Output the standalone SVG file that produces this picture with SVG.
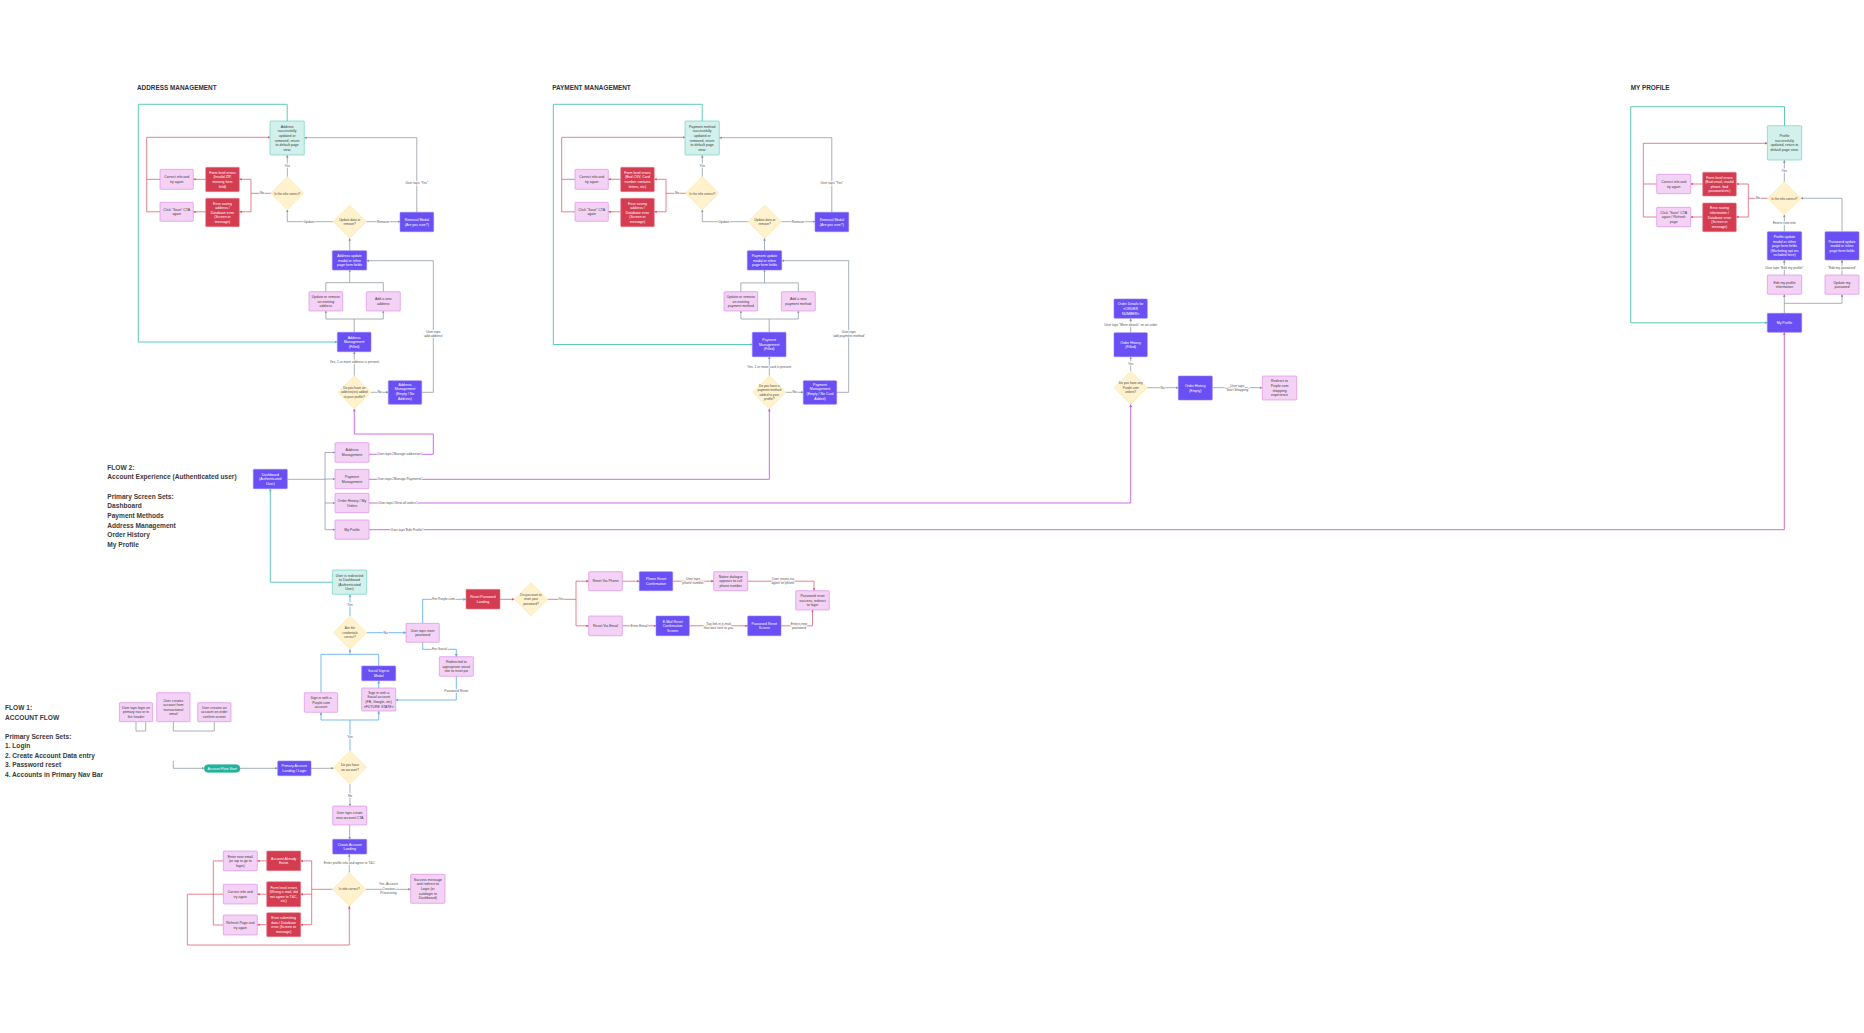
<svg xmlns="http://www.w3.org/2000/svg" width="1864" height="1033" viewBox="0 0 1864 1033">
<defs>
<style>
.tx{font-family:"Liberation Sans",Arial,sans-serif;font-size:3.5px;text-anchor:middle}
.tw{fill:#ffffff}
.td{fill:#3b3b3b}
.dt{font-family:"Liberation Sans",Arial,sans-serif;font-size:3.2px;text-anchor:middle;fill:#4a4a4a}
.lb{font-family:"Liberation Sans",Arial,sans-serif;font-size:3.3px;text-anchor:middle;fill:#555;paint-order:stroke;stroke:#fff;stroke-width:1.3px}
.ttl{font-family:"Liberation Sans",Arial,sans-serif;font-size:6.4px;font-weight:bold;fill:#2d3340}
.fl{font-family:"Liberation Sans",Arial,sans-serif;font-size:6.6px;font-weight:bold;fill:#3a3a3a}
.bp{fill:#6a4ff5;stroke:#8f7dfb;stroke-width:0.6}
.bk{fill:#f4d2f5;stroke:#d983e2;stroke-width:0.6}
.br{fill:#d33c51;stroke:#e5808d;stroke-width:0.6}
.bt{fill:#d2f0ec;stroke:#62cbbb;stroke-width:0.6}
.bd{fill:#fff2cc;stroke:#fbe2a0;stroke-width:0.6}
.bs{fill:#22b39c;stroke:#22b39c;stroke-width:0.6}
.c{fill:none;stroke-width:0.75;stroke-linejoin:round}
.cg{stroke:#8b95a1}
.cr{stroke:#e2566a}
.ct{stroke:#4cc5b0;stroke-width:0.9}
.cb{stroke:#5eaeea;stroke-width:0.85}
.cm{stroke:#cb5ee0;stroke-width:0.9}
</style>
<marker id="ag" viewBox="0 0 6 6" refX="5.6" refY="3" markerWidth="2.6" markerHeight="2.6" markerUnits="userSpaceOnUse" orient="auto"><path d="M0,0 L6,3 L0,6 z" fill="#8b95a1"/></marker>
<marker id="ar" viewBox="0 0 6 6" refX="5.6" refY="3" markerWidth="2.6" markerHeight="2.6" markerUnits="userSpaceOnUse" orient="auto"><path d="M0,0 L6,3 L0,6 z" fill="#e2566a"/></marker>
<marker id="at" viewBox="0 0 6 6" refX="5.6" refY="3" markerWidth="2.8" markerHeight="2.8" markerUnits="userSpaceOnUse" orient="auto"><path d="M0,0 L6,3 L0,6 z" fill="#4cc5b0"/></marker>
<marker id="ab" viewBox="0 0 6 6" refX="5.6" refY="3" markerWidth="2.8" markerHeight="2.8" markerUnits="userSpaceOnUse" orient="auto"><path d="M0,0 L6,3 L0,6 z" fill="#5eaeea"/></marker>
<marker id="am" viewBox="0 0 6 6" refX="5.6" refY="3" markerWidth="2.8" markerHeight="2.8" markerUnits="userSpaceOnUse" orient="auto"><path d="M0,0 L6,3 L0,6 z" fill="#cb5ee0"/></marker>
</defs>
<rect width="1864" height="1033" fill="#ffffff"/>

<g id="titles">
<text class="ttl" x="137" y="90">ADDRESS MANAGEMENT</text>
<text class="ttl" x="552.3" y="90">PAYMENT MANAGEMENT</text>
<text class="ttl" x="1630.7" y="90">MY PROFILE</text>
<text class="fl" x="107.3" y="469.6">FLOW 2:</text>
<text class="fl" x="107.3" y="479.2">Account Experience (Authenticated user)</text>
<text class="fl" x="107.3" y="499">Primary Screen Sets:</text>
<text class="fl" x="107.3" y="508.3">Dashboard</text>
<text class="fl" x="107.3" y="517.9">Payment Methods</text>
<text class="fl" x="107.3" y="527.5">Address Management</text>
<text class="fl" x="107.3" y="536.9">Order History</text>
<text class="fl" x="107.3" y="546.5">My Profile</text>
<text class="fl" x="5" y="710">FLOW 1:</text>
<text class="fl" x="5" y="719.6">ACCOUNT FLOW</text>
<text class="fl" x="5" y="739">Primary Screen Sets:</text>
<text class="fl" x="5" y="748.3">1. Login</text>
<text class="fl" x="5" y="757.6">2. Create Account Data entry</text>
<text class="fl" x="5" y="767.3">3. Password reset</text>
<text class="fl" x="5" y="777">4. Accounts in Primary Nav Bar</text>
</g>

<g id="connectors">
<!-- ADDRESS -->
<path class="c ct" d="M287.2 121 V104.3 H138.3 V342 H337.3" marker-end="url(#at)"/>
<path class="c cr" d="M160 179.3 H146.7"/>
<path class="c cr" d="M160 211.8 H146.7 V137.3 H270" marker-end="url(#ar)"/>
<path class="c cr" d="M271.2 193.3 H251"/>
<path class="c cr" d="M251 193.3 V179.3 H239.3" marker-end="url(#ar)"/>
<path class="c cr" d="M251 193.3 V211.8 H239.3" marker-end="url(#ar)"/>
<path class="c cr" d="M205.7 179.3 H193.3" marker-end="url(#ar)"/>
<path class="c cr" d="M205.7 211.8 H193.3" marker-end="url(#ar)"/>
<path class="c cg" d="M287.3 176.8 V155.2" marker-end="url(#ag)"/>
<path class="c cg" d="M333.2 221.7 H287.3 V209.8" marker-end="url(#ag)"/>
<path class="c cg" d="M366.2 221.7 H400" marker-end="url(#ag)"/>
<path class="c cg" d="M416.8 212.3 V137.7 H304.3" marker-end="url(#ag)"/>
<path class="c cg" d="M349.7 250.7 V238.2" marker-end="url(#ag)"/>
<path class="c cg" d="M325.85 291.7 V282.7 H383.3 V291.7"/>
<path class="c cg" d="M349.7 282.7 V270" marker-end="url(#ag)"/>
<path class="c cg" d="M354.2 332.3 V319 H325.85 V311" marker-end="url(#ag)"/>
<path class="c cg" d="M354.2 319 H383.3 V311" marker-end="url(#ag)"/>
<path class="c cg" d="M354.3 375.8 V351.7" marker-end="url(#ag)"/>
<path class="c cg" d="M370.8 392.3 H388.3" marker-end="url(#ag)"/>
<path class="c cg" d="M421.7 392.3 H433.3 V260.7 H366.7" marker-end="url(#ag)"/>
<path class="c cm" d="M369 454.3 H433.3 V434 H354.3 V409" marker-end="url(#am)"/>
<text class="lb" x="262" y="194.4">No</text>
<text class="lb" x="287.3" y="166.5">Yes</text>
<text class="lb" x="309" y="222.8">Update</text>
<text class="lb" x="383" y="222.8">Remove</text>
<text class="lb" x="416.8" y="183.8">User taps "Yes"</text>
<text class="lb" x="354.3" y="362.8">Yes, 1 or more address is present</text>
<text class="lb" x="379.5" y="393.4">No</text>
<text class="lb" x="433.3" y="333">User taps</text>
<text class="lb" x="433.3" y="337.3">'add address'</text>
<text class="lb" x="400" y="455.4">User taps "Manage addresses"</text>

<!-- PAYMENT -->
<path class="c ct" d="M702.2 121 V104.3 H553.3 V344.5 H752.3" marker-end="url(#at)"/>
<path class="c cr" d="M575 179.3 H561.7"/>
<path class="c cr" d="M575 211.8 H561.7 V137.3 H685" marker-end="url(#ar)"/>
<path class="c cr" d="M686.2 193.3 H666"/>
<path class="c cr" d="M666 193.3 V179.3 H654.3" marker-end="url(#ar)"/>
<path class="c cr" d="M666 193.3 V211.8 H654.3" marker-end="url(#ar)"/>
<path class="c cr" d="M620.7 179.3 H608.3" marker-end="url(#ar)"/>
<path class="c cr" d="M620.7 211.8 H608.3" marker-end="url(#ar)"/>
<path class="c cg" d="M702.3 176.8 V155.2" marker-end="url(#ag)"/>
<path class="c cg" d="M748.2 221.7 H702.3 V209.8" marker-end="url(#ag)"/>
<path class="c cg" d="M781.2 221.7 H815" marker-end="url(#ag)"/>
<path class="c cg" d="M831.8 212.3 V137.7 H719.3" marker-end="url(#ag)"/>
<path class="c cg" d="M764.5 250.7 V238.2" marker-end="url(#ag)"/>
<path class="c cg" d="M740.85 291.7 V282.9 H798.3 V291.7"/>
<path class="c cg" d="M764.5 282.9 V270" marker-end="url(#ag)"/>
<path class="c cg" d="M769.2 332.3 V319 H740.85 V311" marker-end="url(#ag)"/>
<path class="c cg" d="M769.2 319 H798.3 V311" marker-end="url(#ag)"/>
<path class="c cg" d="M769.3 375.8 V356.7" marker-end="url(#ag)"/>
<path class="c cg" d="M785.8 392.3 H803.3" marker-end="url(#ag)"/>
<path class="c cg" d="M836.7 392.3 H848.7 V260.7 H781.7" marker-end="url(#ag)"/>
<path class="c cm" d="M369 479.3 H769.3 V409" marker-end="url(#am)"/>
<text class="lb" x="677" y="194.4">No</text>
<text class="lb" x="702.3" y="166.5">Yes</text>
<text class="lb" x="724" y="222.8">Update</text>
<text class="lb" x="798" y="222.8">Remove</text>
<text class="lb" x="831.8" y="183.8">User taps "Yes"</text>
<text class="lb" x="769.3" y="367.8">Yes, 1 or more card is present</text>
<text class="lb" x="794.5" y="393.4">No</text>
<text class="lb" x="848.7" y="333">User taps</text>
<text class="lb" x="848.7" y="337.3">'add payment method'</text>
<text class="lb" x="400" y="480.4">User taps "Manage Payments"</text>

<!-- MY PROFILE -->
<path class="c ct" d="M1784.5 125.7 V106.7 H1630.7 V322.8 H1767.3" marker-end="url(#at)"/>
<path class="c cr" d="M1656.7 184 H1643.3"/>
<path class="c cr" d="M1656.7 217 H1643.3 V143.3 H1767.3" marker-end="url(#ar)"/>
<path class="c cr" d="M1767.8 198.3 H1748.3"/>
<path class="c cr" d="M1748.3 198.3 V184 H1736.3" marker-end="url(#ar)"/>
<path class="c cr" d="M1748.3 198.3 V217 H1736.3" marker-end="url(#ar)"/>
<path class="c cr" d="M1702.7 184 H1690.7" marker-end="url(#ar)"/>
<path class="c cr" d="M1702.7 217 H1690.7" marker-end="url(#ar)"/>
<path class="c cg" d="M1784.3 181.8 V160.2" marker-end="url(#ag)"/>
<path class="c cg" d="M1784.3 231.7 V214.8" marker-end="url(#ag)"/>
<path class="c cg" d="M1842 231.7 V198.3 H1800.8" marker-end="url(#ag)"/>
<path class="c cg" d="M1784.3 275 V260.2" marker-end="url(#ag)"/>
<path class="c cg" d="M1842 275 V260.2" marker-end="url(#ag)"/>
<path class="c cg" d="M1784.3 313.3 V303.3 H1842 V294.5" marker-end="url(#ag)"/>
<path class="c cg" d="M1784.3 303.3 V294.5" marker-end="url(#ag)"/>
<path class="c cm" d="M369 529.7 H1784.3 V332.5" marker-end="url(#am)"/>
<text class="lb" x="1758" y="199.4">No</text>
<text class="lb" x="1784.3" y="171.5">Yes</text>
<text class="lb" x="1784.3" y="223.8">Enters new info</text>
<text class="lb" x="1784.3" y="268.8">User taps "Edit my profile"</text>
<text class="lb" x="1842" y="268.8">"Edit my password"</text>
<text class="lb" x="407" y="530.8">User taps"Edit Profile"</text>

<!-- ORDER HISTORY -->
<path class="c cg" d="M1130.7 332.7 V318.5" marker-end="url(#ag)"/>
<path class="c cg" d="M1130.7 371.2 V356.9" marker-end="url(#ag)"/>
<path class="c cg" d="M1147.2 387.7 H1178.3" marker-end="url(#ag)"/>
<path class="c cg" d="M1212.3 387.7 H1262.3" marker-end="url(#ag)"/>
<path class="c cm" d="M369 503 H1130.7 V404.4" marker-end="url(#am)"/>
<text class="lb" x="1130.7" y="326.4">User taps "More details" on an order</text>
<text class="lb" x="1130.7" y="365">Yes</text>
<text class="lb" x="1162.7" y="388.8">No</text>
<text class="lb" x="1237.3" y="386.5">User taps</text>
<text class="lb" x="1237.3" y="390.8">"Start Shopping"</text>
<text class="lb" x="398" y="504.1">User taps "View all orders"</text>

<!-- FLOW 2 DASHBOARD -->
<path class="c cg" d="M287.3 479.3 H325"/>
<path class="c cg" d="M325 452.5 V529.7"/>
<path class="c cg" d="M325 452.5 H335" marker-end="url(#ag)"/>
<path class="c cg" d="M325 479 H335" marker-end="url(#ag)"/>
<path class="c cg" d="M325 503 H335" marker-end="url(#ag)"/>
<path class="c cg" d="M325 529.7 H335" marker-end="url(#ag)"/>

<!-- FLOW 1 -->
<path class="c ct" d="M332.3 582.2 H270.3 V489" marker-end="url(#at)"/>
<path class="c cb" d="M350 616.2 V594.5" marker-end="url(#ab)"/>
<path class="c cb" d="M366.5 632.7 H406" marker-end="url(#ab)"/>
<path class="c cb" d="M422.7 623.3 V599.3 H466" marker-end="url(#ab)"/>
<path class="c cr" d="M500 599.3 H514.3" marker-end="url(#ar)"/>
<path class="c cr" d="M547.5 599.3 H576"/>
<path class="c cr" d="M576 599.3 V581.2 H588.7" marker-end="url(#ar)"/>
<path class="c cr" d="M576 599.3 V625.8 H588.7" marker-end="url(#ar)"/>
<path class="c cr" d="M622.3 581.2 H639.3" marker-end="url(#ar)"/>
<path class="c cr" d="M672.7 581.2 H713.7" marker-end="url(#ar)"/>
<path class="c cr" d="M747.7 581.2 H814 V590.7" marker-end="url(#ar)"/>
<path class="c cr" d="M622.3 625.8 H656" marker-end="url(#ar)"/>
<path class="c cr" d="M689.3 625.8 H747.7" marker-end="url(#ar)"/>
<path class="c cr" d="M781 625.8 H812.5 V610" marker-end="url(#ar)"/>
<path class="c cb" d="M422.7 642.3 V649.3 H456.3 V656.7" marker-end="url(#ab)"/>
<path class="c cb" d="M456.3 676.3 V700 H395.7" marker-end="url(#ab)"/>
<path class="c cb" d="M378.7 688 V680.9" marker-end="url(#ab)"/>
<path class="c cb" d="M378.7 666 V654.3 H350"/>
<path class="c cb" d="M321 692.7 V654.3 H350 V649.4" marker-end="url(#ab)"/>
<path class="c cb" d="M350 750.8 V720"/>
<path class="c cb" d="M321 720 H378.7"/>
<path class="c cb" d="M321 720 V712.5" marker-end="url(#ab)"/>
<path class="c cb" d="M378.7 720 V711.2" marker-end="url(#ab)"/>
<path class="c cg" d="M311 768.3 H333.5" marker-end="url(#ag)"/>
<path class="c cg" d="M240 768.3 H277.7" marker-end="url(#ag)"/>
<path class="c cg" d="M173.3 761 V768.3 H204.3" marker-end="url(#ag)"/>
<path class="c cg" d="M136 721.7 V731 H145.7 V721.7"/>
<path class="c cg" d="M173.3 721.7 V731 H214.3 V721.7"/>
<path class="c cg" d="M350 784 V806" marker-end="url(#ag)"/>
<path class="c cg" d="M349.7 825 V839.3" marker-end="url(#ag)"/>
<path class="c cg" d="M349.3 872.6 V854.2" marker-end="url(#ag)"/>
<path class="c cg" d="M366 889.3 H410.7" marker-end="url(#ag)"/>
<path class="c cr" d="M332.6 889.3 H311.7"/>
<path class="c cr" d="M311.7 860.9 V924.7"/>
<path class="c cr" d="M311.7 860.9 H300.7" marker-end="url(#ar)"/>
<path class="c cr" d="M311.7 894.2 H300.7" marker-end="url(#ar)"/>
<path class="c cr" d="M311.7 924.7 H300.7" marker-end="url(#ar)"/>
<path class="c cr" d="M266.7 860.9 H257.3" marker-end="url(#ar)"/>
<path class="c cr" d="M266.7 894.2 H257.3" marker-end="url(#ar)"/>
<path class="c cr" d="M266.7 924.7 H257.3" marker-end="url(#ar)"/>
<path class="c cr" d="M223.3 860.9 H213.3 V925 H223.3"/>
<path class="c cr" d="M223.3 894.2 H187.3 V945 H349.3 V906.2" marker-end="url(#ar)"/>
<text class="lb" x="350" y="606">Yes</text>
<text class="lb" x="385.7" y="633.8">No</text>
<text class="lb" x="443.5" y="600.4">For Purple.com</text>
<text class="lb" x="561" y="600.4">Yes</text>
<text class="lb" x="693" y="580">User taps</text>
<text class="lb" x="693" y="584.3">phone number</text>
<text class="lb" x="783" y="580">User resets via</text>
<text class="lb" x="783" y="584.3">agent on phone</text>
<text class="lb" x="639" y="626.9">Enter Email</text>
<text class="lb" x="718.5" y="624.6">Tap link in e-mail</text>
<text class="lb" x="718.5" y="628.9">that was sent to you</text>
<text class="lb" x="799" y="624.6">Enters new</text>
<text class="lb" x="799" y="628.9">password</text>
<text class="lb" x="439.5" y="650.4">For Social</text>
<text class="lb" x="456.3" y="692">Password Reset</text>
<text class="lb" x="350" y="738.4">Yes</text>
<text class="lb" x="350" y="796.8">No</text>
<text class="lb" x="349.3" y="864.4">Enter profile info and agree to T&amp;C</text>
<text class="lb" x="388.5" y="885.3">Yes, Account</text>
<text class="lb" x="388.5" y="889.6">Creation</text>
<text class="lb" x="388.5" y="893.9">Processing</text>
</g>

<!-- ADDRESS NODES -->
<g id="a-success"><rect class="bt" x="270" y="121" width="34.3" height="34" rx="0.8"/><text class="tx td" y="127.75"><tspan x="287.2">Address</tspan><tspan x="287.2" dy="4.6">successfully</tspan><tspan x="287.2" dy="4.6">updated or</tspan><tspan x="287.2" dy="4.6">removed, return</tspan><tspan x="287.2" dy="4.6">to default page</tspan><tspan x="287.2" dy="4.6">view.</tspan></text></g>
<g id="a-correct"><rect class="bk" x="160" y="169.3" width="33.3" height="20" rx="0.8"/><text class="tx td" y="178.25"><tspan x="176.7">Correct info and</tspan><tspan x="176.7" dy="4.6">try again</tspan></text></g>
<g id="a-save"><rect class="bk" x="160" y="202.3" width="33.3" height="19" rx="0.8"/><text class="tx td" y="210.75"><tspan x="176.7">Click "Save" CTA</tspan><tspan x="176.7" dy="4.6">again</tspan></text></g>
<g id="a-formerr"><rect class="br" x="205.7" y="167.3" width="33.6" height="24.4" rx="0.8"/><text class="tx tw" y="173.85"><tspan x="222.5">Form level errors</tspan><tspan x="222.5" dy="4.6">(Invalid ZIP,</tspan><tspan x="222.5" dy="4.6">missing form</tspan><tspan x="222.5" dy="4.6">field)</tspan></text></g>
<g id="a-saveerr"><rect class="br" x="205.7" y="198.3" width="33.6" height="28.4" rx="0.8"/><text class="tx tw" y="204.55"><tspan x="222.5">Error saving</tspan><tspan x="222.5" dy="4.6">address /</tspan><tspan x="222.5" dy="4.6">Database error</tspan><tspan x="222.5" dy="4.6">(Screen or</tspan><tspan x="222.5" dy="4.6">message)</tspan></text></g>
<g id="a-infocorrect"><polygon class="bd" points="287.3,176.8 303.8,193.3 287.3,209.8 270.8,193.3"/><text class="dt" x="287.3" y="194.5">Is the info correct?</text></g>
<g id="a-updateorremove"><polygon class="bd" points="349.7,205.2 366.2,221.7 349.7,238.2 333.2,221.7"/><text class="dt" y="220.6"><tspan x="349.7">Update data or</tspan><tspan x="349.7" dy="4.4">remove?</tspan></text></g>
<g id="a-removal"><rect class="bp" x="400" y="212.3" width="33.7" height="19.4" rx="0.8"/><text class="tx tw" y="220.95"><tspan x="416.8">Removal Modal</tspan><tspan x="416.8" dy="4.6">(Are you sure?)</tspan></text></g>
<g id="a-updatemodal"><rect class="bp" x="332.3" y="250.7" width="34.4" height="19.3" rx="0.8"/><text class="tx tw" y="257"><tspan x="349.5">Address update</tspan><tspan x="349.5" dy="4.6">modal or inline</tspan><tspan x="349.5" dy="4.6">page form fields</tspan></text></g>
<g id="a-updateexisting"><rect class="bk" x="309" y="291.7" width="33.7" height="19.3" rx="0.8"/><text class="tx td" y="298"><tspan x="325.85">Update or remove</tspan><tspan x="325.85" dy="4.6">an existing</tspan><tspan x="325.85" dy="4.6">address</tspan></text></g>
<g id="a-addnew"><rect class="bk" x="366.3" y="291.7" width="34" height="19.3" rx="0.8"/><text class="tx td" y="300.3"><tspan x="383.3">Add a new</tspan><tspan x="383.3" dy="4.6">address</tspan></text></g>
<g id="a-filled"><rect class="bp" x="337.3" y="332.3" width="33.7" height="19.4" rx="0.8"/><text class="tx tw" y="338.65"><tspan x="354.15">Address</tspan><tspan x="354.15" dy="4.6">Management</tspan><tspan x="354.15" dy="4.6">(Filled)</tspan></text></g>
<g id="a-haveaddress"><polygon class="bd" points="354.3,375.8 370.8,392.3 354.3,408.8 337.8,392.3"/><text class="dt" y="389.05"><tspan x="354.3">Do you have an</tspan><tspan x="354.3" dy="4.4">address(es) added</tspan><tspan x="354.3" dy="4.4">to your profile?</tspan></text></g>
<g id="a-empty"><rect class="bp" x="388.3" y="380.7" width="33.4" height="23.6" rx="0.8"/><text class="tx tw" y="385.85"><tspan x="405">Address</tspan><tspan x="405" dy="4.6">Management</tspan><tspan x="405" dy="4.6">(Empty / No</tspan><tspan x="405" dy="4.6">Address)</tspan></text></g>

<!-- PAYMENT NODES -->
<g id="p-success"><rect class="bt" x="685" y="121" width="34.3" height="34" rx="0.8"/><text class="tx td" y="127.75"><tspan x="702.2">Payment method</tspan><tspan x="702.2" dy="4.6">successfully</tspan><tspan x="702.2" dy="4.6">updated or</tspan><tspan x="702.2" dy="4.6">removed, return</tspan><tspan x="702.2" dy="4.6">to default page</tspan><tspan x="702.2" dy="4.6">view.</tspan></text></g>
<g id="p-correct"><rect class="bk" x="575" y="169.3" width="33.3" height="20" rx="0.8"/><text class="tx td" y="178.25"><tspan x="591.7">Correct info and</tspan><tspan x="591.7" dy="4.6">try again</tspan></text></g>
<g id="p-save"><rect class="bk" x="575" y="202.3" width="33.3" height="19" rx="0.8"/><text class="tx td" y="210.75"><tspan x="591.7">Click "Save" CTA</tspan><tspan x="591.7" dy="4.6">again</tspan></text></g>
<g id="p-formerr"><rect class="br" x="620.7" y="167.3" width="33.6" height="24.4" rx="0.8"/><text class="tx tw" y="173.85"><tspan x="637.5">Form level errors</tspan><tspan x="637.5" dy="4.6">(Bad CVV, Card</tspan><tspan x="637.5" dy="4.6">number contains</tspan><tspan x="637.5" dy="4.6">letters, etc)</tspan></text></g>
<g id="p-saveerr"><rect class="br" x="620.7" y="198.3" width="33.6" height="28.4" rx="0.8"/><text class="tx tw" y="204.55"><tspan x="637.5">Error saving</tspan><tspan x="637.5" dy="4.6">address /</tspan><tspan x="637.5" dy="4.6">Database error</tspan><tspan x="637.5" dy="4.6">(Screen or</tspan><tspan x="637.5" dy="4.6">message)</tspan></text></g>
<g id="p-infocorrect"><polygon class="bd" points="702.3,176.8 718.8,193.3 702.3,209.8 685.8,193.3"/><text class="dt" x="702.3" y="194.5">Is the info correct?</text></g>
<g id="p-updateorremove"><polygon class="bd" points="764.7,205.2 781.2,221.7 764.7,238.2 748.2,221.7"/><text class="dt" y="220.6"><tspan x="764.7">Update data or</tspan><tspan x="764.7" dy="4.4">remove?</tspan></text></g>
<g id="p-removal"><rect class="bp" x="815" y="212.3" width="33.7" height="19.4" rx="0.8"/><text class="tx tw" y="220.95"><tspan x="831.8">Removal Modal</tspan><tspan x="831.8" dy="4.6">(Are you sure?)</tspan></text></g>
<g id="p-updatemodal"><rect class="bp" x="747.3" y="250.7" width="34.4" height="19.3" rx="0.8"/><text class="tx tw" y="257"><tspan x="764.5">Payment update</tspan><tspan x="764.5" dy="4.6">modal or inline</tspan><tspan x="764.5" dy="4.6">page form fields</tspan></text></g>
<g id="p-updateexisting"><rect class="bk" x="724" y="291.7" width="33.7" height="19.3" rx="0.8"/><text class="tx td" y="298"><tspan x="740.85">Update or remove</tspan><tspan x="740.85" dy="4.6">an existing</tspan><tspan x="740.85" dy="4.6">payment method</tspan></text></g>
<g id="p-addnew"><rect class="bk" x="781.3" y="291.7" width="34" height="19.3" rx="0.8"/><text class="tx td" y="300.3"><tspan x="798.3">Add a new</tspan><tspan x="798.3" dy="4.6">payment method</tspan></text></g>
<g id="p-filled"><rect class="bp" x="752.3" y="332.3" width="33.7" height="24.4" rx="0.8"/><text class="tx tw" y="341.15"><tspan x="769.15">Payment</tspan><tspan x="769.15" dy="4.6">Management</tspan><tspan x="769.15" dy="4.6">(Filled)</tspan></text></g>
<g id="p-havepayment"><polygon class="bd" points="769.3,375.8 785.8,392.3 769.3,408.8 752.8,392.3"/><text class="dt" y="386.85"><tspan x="769.3">Do you have a</tspan><tspan x="769.3" dy="4.4">payment method</tspan><tspan x="769.3" dy="4.4">added to your</tspan><tspan x="769.3" dy="4.4">profile?</tspan></text></g>
<g id="p-empty"><rect class="bp" x="803.3" y="380.7" width="33.4" height="23.6" rx="0.8"/><text class="tx tw" y="385.85"><tspan x="820">Payment</tspan><tspan x="820" dy="4.6">Management</tspan><tspan x="820" dy="4.6">(Empty / No Card</tspan><tspan x="820" dy="4.6">Added)</tspan></text></g>

<!-- MY PROFILE NODES -->
<g id="m-success"><rect class="bt" x="1767.3" y="125.7" width="34.4" height="34.3" rx="0.8"/><text class="tx td" y="137.2"><tspan x="1784.5">Profile</tspan><tspan x="1784.5" dy="4.6">successfully</tspan><tspan x="1784.5" dy="4.6">updated, return to</tspan><tspan x="1784.5" dy="4.6">default page view.</tspan></text></g>
<g id="m-correct"><rect class="bk" x="1656.7" y="174.3" width="34" height="19.4" rx="0.8"/><text class="tx td" y="182.95"><tspan x="1673.7">Correct info and</tspan><tspan x="1673.7" dy="4.6">try again</tspan></text></g>
<g id="m-save"><rect class="bk" x="1656.7" y="207.3" width="34" height="19.4" rx="0.8"/><text class="tx td" y="213.65"><tspan x="1673.7">Click "Save" CTA</tspan><tspan x="1673.7" dy="4.6">again / Refresh</tspan><tspan x="1673.7" dy="4.6">page</tspan></text></g>
<g id="m-formerr"><rect class="br" x="1702.7" y="172.3" width="33.6" height="23.7" rx="0.8"/><text class="tx tw" y="178.5"><tspan x="1719.5">Form level errors</tspan><tspan x="1719.5" dy="4.6">(Bad email, invalid</tspan><tspan x="1719.5" dy="4.6">phone, bad</tspan><tspan x="1719.5" dy="4.6">password etc)</tspan></text></g>
<g id="m-saveerr"><rect class="br" x="1702.7" y="203" width="33.6" height="28.7" rx="0.8"/><text class="tx tw" y="209.4"><tspan x="1719.5">Error saving</tspan><tspan x="1719.5" dy="4.6">information /</tspan><tspan x="1719.5" dy="4.6">Database error</tspan><tspan x="1719.5" dy="4.6">(Screen or</tspan><tspan x="1719.5" dy="4.6">message)</tspan></text></g>
<g id="m-infocorrect"><polygon class="bd" points="1784.3,181.8 1800.8,198.3 1784.3,214.8 1767.8,198.3"/><text class="dt" x="1784.3" y="199.5">Is the info correct?</text></g>
<g id="m-profileupdate"><rect class="bp" x="1767.3" y="231.7" width="34.4" height="28.3" rx="0.8"/><text class="tx tw" y="237.9"><tspan x="1784.5">Profile update</tspan><tspan x="1784.5" dy="4.6">modal or inline</tspan><tspan x="1784.5" dy="4.6">page form fields</tspan><tspan x="1784.5" dy="4.6">(Marketing opt-ins</tspan><tspan x="1784.5" dy="4.6">included here)</tspan></text></g>
<g id="m-passwordupdate"><rect class="bp" x="1825" y="231.7" width="34" height="28.3" rx="0.8"/><text class="tx tw" y="242.5"><tspan x="1842">Password update</tspan><tspan x="1842" dy="4.6">modal or inline</tspan><tspan x="1842" dy="4.6">page form fields</tspan></text></g>
<g id="m-editprofile"><rect class="bk" x="1767.3" y="275" width="34.4" height="19.3" rx="0.8"/><text class="tx td" y="283.6"><tspan x="1784.5">Edit my profile</tspan><tspan x="1784.5" dy="4.6">information</tspan></text></g>
<g id="m-updatepassword"><rect class="bk" x="1825" y="275" width="34" height="19.3" rx="0.8"/><text class="tx td" y="283.6"><tspan x="1842">Update my</tspan><tspan x="1842" dy="4.6">password</tspan></text></g>
<g id="m-myprofile"><rect class="bp" x="1767.3" y="313.3" width="34.4" height="19" rx="0.8"/><text class="tx tw" x="1784.5" y="324.05">My Profile</text></g>

<!-- ORDER HISTORY NODES -->
<g id="o-details"><rect class="bp" x="1114" y="299" width="33.3" height="19.3" rx="0.8"/><text class="tx tw" y="305.3"><tspan x="1130.65">Order Details for</tspan><tspan x="1130.65" dy="4.6">&lt;ORDER</tspan><tspan x="1130.65" dy="4.6">NUMBER&gt;</tspan></text></g>
<g id="o-filled"><rect class="bp" x="1114" y="332.7" width="33.3" height="24" rx="0.8"/><text class="tx tw" y="343.65"><tspan x="1130.65">Order History</tspan><tspan x="1130.65" dy="4.6">(Filled)</tspan></text></g>
<g id="o-haveorders"><polygon class="bd" points="1130.7,371.2 1147.2,387.7 1130.7,404.2 1114.2,387.7"/><text class="dt" y="384.45"><tspan x="1130.7">Do you have any</tspan><tspan x="1130.7" dy="4.4">Purple.com</tspan><tspan x="1130.7" dy="4.4">orders?</tspan></text></g>
<g id="o-empty"><rect class="bp" x="1178.3" y="376" width="34" height="24" rx="0.8"/><text class="tx tw" y="386.95"><tspan x="1195.3">Order History</tspan><tspan x="1195.3" dy="4.6">(Empty)</tspan></text></g>
<g id="o-redirect"><rect class="bk" x="1262.3" y="376" width="34.4" height="24" rx="0.8"/><text class="tx td" y="382.35"><tspan x="1279.5">Redirect to</tspan><tspan x="1279.5" dy="4.6">Purple.com</tspan><tspan x="1279.5" dy="4.6">shopping</tspan><tspan x="1279.5" dy="4.6">experience</tspan></text></g>

<!-- FLOW 2 NODES -->
<g id="d-dashboard"><rect class="bp" x="253.3" y="469.3" width="34" height="19.4" rx="0.8"/><text class="tx tw" y="475.65"><tspan x="270.3">Dashboard</tspan><tspan x="270.3" dy="4.6">(Authenticated</tspan><tspan x="270.3" dy="4.6">User)</tspan></text></g>
<g id="d-address"><rect class="bk" x="335" y="442.7" width="34" height="19.6" rx="0.8"/><text class="tx td" y="451.45"><tspan x="352">Address</tspan><tspan x="352" dy="4.6">Management</tspan></text></g>
<g id="d-payment"><rect class="bk" x="335" y="469.3" width="34" height="19.4" rx="0.8"/><text class="tx td" y="477.95"><tspan x="352">Payment</tspan><tspan x="352" dy="4.6">Management</tspan></text></g>
<g id="d-orders"><rect class="bk" x="335" y="493.3" width="34" height="19.4" rx="0.8"/><text class="tx td" y="501.95"><tspan x="352">Order History / My</tspan><tspan x="352" dy="4.6">Orders</tspan></text></g>
<g id="d-profile"><rect class="bk" x="335" y="520" width="34" height="19.3" rx="0.8"/><text class="tx td" x="352" y="530.9">My Profile</text></g>

<!-- FLOW 1 NODES -->
<g id="f-redirected"><rect class="bt" x="332.3" y="570" width="34.4" height="24.3" rx="0.8"/><text class="tx td" y="576.5"><tspan x="349.5">User is redirected</tspan><tspan x="349.5" dy="4.6">to Dashboard</tspan><tspan x="349.5" dy="4.6">(Authenticated</tspan><tspan x="349.5" dy="4.6">User)</tspan></text></g>
<g id="f-credentials"><polygon class="bd" points="350,616.2 366.5,632.7 350,649.2 333.5,632.7"/><text class="dt" y="629.45"><tspan x="350">Are the</tspan><tspan x="350" dy="4.4">credentials</tspan><tspan x="350" dy="4.4">correct?</tspan></text></g>
<g id="f-resetpw"><rect class="bk" x="406" y="623.3" width="33.3" height="19" rx="0.8"/><text class="tx td" y="631.75"><tspan x="422.65">User taps reset</tspan><tspan x="422.65" dy="4.6">password</tspan></text></g>
<g id="f-resetlanding"><rect class="br" x="466" y="589.3" width="34" height="19.7" rx="0.8"/><text class="tx tw" y="598.1"><tspan x="483">Reset Password</tspan><tspan x="483" dy="4.6">Landing</tspan></text></g>
<g id="f-wantreset"><polygon class="bd" points="531,582.8 547.5,599.3 531,615.8 514.5,599.3"/><text class="dt" y="596.05"><tspan x="531">Do you want to</tspan><tspan x="531" dy="4.4">reset your</tspan><tspan x="531" dy="4.4">password?</tspan></text></g>
<g id="f-viaphone"><rect class="bk" x="588.7" y="571.7" width="33.6" height="19" rx="0.8"/><text class="tx td" x="605.5" y="582.45">Reset Via Phone</text></g>
<g id="f-phoneconf"><rect class="bp" x="639.3" y="571.7" width="33.4" height="19" rx="0.8"/><text class="tx tw" y="580.15"><tspan x="656">Phone Reset</tspan><tspan x="656" dy="4.6">Confirmation</tspan></text></g>
<g id="f-native"><rect class="bk" x="713.7" y="571.7" width="34" height="19" rx="0.8"/><text class="tx td" y="577.85"><tspan x="730.7">Native dialogue</tspan><tspan x="730.7" dy="4.6">appears to call</tspan><tspan x="730.7" dy="4.6">phone number</tspan></text></g>
<g id="f-resetsuccess"><rect class="bk" x="795.7" y="590.7" width="33.6" height="19.3" rx="0.8"/><text class="tx td" y="597"><tspan x="812.5">Password reset</tspan><tspan x="812.5" dy="4.6">success, redirect</tspan><tspan x="812.5" dy="4.6">to login</tspan></text></g>
<g id="f-viaemail"><rect class="bk" x="588.7" y="616" width="33.6" height="19.7" rx="0.8"/><text class="tx td" x="605.5" y="627.1">Reset Via Email</text></g>
<g id="f-emailconf"><rect class="bp" x="656" y="616" width="33.3" height="19.7" rx="0.8"/><text class="tx tw" y="622.5"><tspan x="672.65">E-Mail Reset</tspan><tspan x="672.65" dy="4.6">Confirmation</tspan><tspan x="672.65" dy="4.6">Screen</tspan></text></g>
<g id="f-pwscreen"><rect class="bp" x="747.7" y="616" width="33.3" height="19.7" rx="0.8"/><text class="tx tw" y="624.8"><tspan x="764.35">Password Reset</tspan><tspan x="764.35" dy="4.6">Screen</tspan></text></g>
<g id="f-socialredirect"><rect class="bk" x="439.3" y="656.7" width="34" height="19.6" rx="0.8"/><text class="tx td" y="663.15"><tspan x="456.3">Redirected to</tspan><tspan x="456.3" dy="4.6">appropriate social</tspan><tspan x="456.3" dy="4.6">site to reset pw</tspan></text></g>
<g id="f-socialmodal"><rect class="bp" x="361.7" y="666" width="34" height="14.7" rx="0.8"/><text class="tx tw" y="672.3"><tspan x="378.7">Social Sign in</tspan><tspan x="378.7" dy="4.6">Modal</tspan></text></g>
<g id="f-signsocial"><rect class="bk" x="361.7" y="688" width="34" height="23" rx="0.8"/><text class="tx td" y="693.85"><tspan x="378.7">Sign in with a</tspan><tspan x="378.7" dy="4.6">Social account</tspan><tspan x="378.7" dy="4.6">(FB, Google, etc)</tspan><tspan x="378.7" dy="4.6">&lt;FUTURE STATE&gt;</tspan></text></g>
<g id="f-signpurple"><rect class="bk" x="304.3" y="692.7" width="33.4" height="19.6" rx="0.8"/><text class="tx td" y="699.15"><tspan x="321">Sign in with a</tspan><tspan x="321" dy="4.6">Purple.com</tspan><tspan x="321" dy="4.6">account</tspan></text></g>
<g id="f-haveaccount"><polygon class="bd" points="350,750.8 366.5,767.3 350,783.8 333.5,767.3"/><text class="dt" y="766.25"><tspan x="350">Do you have</tspan><tspan x="350" dy="4.4">an account?</tspan></text></g>
<g id="f-landing"><rect class="bp" x="277.7" y="761" width="33.3" height="14.7" rx="0.8"/><text class="tx tw" y="767.3"><tspan x="294.35">Primary Account</tspan><tspan x="294.35" dy="4.6">Landing / Login</tspan></text></g>
<g id="f-start"><rect class="bs" x="204.3" y="764.7" width="35.7" height="7.6" rx="3.8"/><text class="tx tw" x="222.15" y="769.75">Account Flow Start</text></g>
<g id="f-taplogin"><rect class="bk" x="119.3" y="702.7" width="33.4" height="19" rx="0.8"/><text class="tx td" y="708.85"><tspan x="136">User taps login on</tspan><tspan x="136" dy="4.6">primary nav or in</tspan><tspan x="136" dy="4.6">the header</tspan></text></g>
<g id="f-fromemail"><rect class="bk" x="156.7" y="692.7" width="33.3" height="29" rx="0.8"/><text class="tx td" y="701.55"><tspan x="173.35">User creates</tspan><tspan x="173.35" dy="4.6">account from</tspan><tspan x="173.35" dy="4.6">transactional</tspan><tspan x="173.35" dy="4.6">email</tspan></text></g>
<g id="f-fromorder"><rect class="bk" x="197.7" y="702.7" width="33.3" height="19" rx="0.8"/><text class="tx td" y="708.85"><tspan x="214.35">User creates an</tspan><tspan x="214.35" dy="4.6">account on order</tspan><tspan x="214.35" dy="4.6">confirm screen</tspan></text></g>
<g id="f-createcta"><rect class="bk" x="332.7" y="806" width="34" height="19" rx="0.8"/><text class="tx td" y="814.45"><tspan x="349.7">User taps create</tspan><tspan x="349.7" dy="4.6">new account CTA</tspan></text></g>
<g id="f-createlanding"><rect class="bp" x="332.7" y="839.3" width="34" height="14.7" rx="0.8"/><text class="tx tw" y="845.6"><tspan x="349.7">Create Account</tspan><tspan x="349.7" dy="4.6">Landing</tspan></text></g>
<g id="f-infocorrect"><polygon class="bd" points="349.3,872.8 365.8,889.3 349.3,905.8 332.8,889.3"/><text class="dt" x="349.3" y="890.45">Is info correct?</text></g>
<g id="f-successmsg"><rect class="bk" x="410.7" y="874.3" width="34.3" height="29" rx="0.8"/><text class="tx td" y="880.85"><tspan x="427.85">Success message</tspan><tspan x="427.85" dy="4.6">and redirect to</tspan><tspan x="427.85" dy="4.6">Login (or</tspan><tspan x="427.85" dy="4.6">autologin to</tspan><tspan x="427.85" dy="4.6">Dashboard)</tspan></text></g>
<g id="f-exists"><rect class="br" x="266.7" y="851" width="34" height="19.7" rx="0.8"/><text class="tx tw" y="859.8"><tspan x="283.7">Account Already</tspan><tspan x="283.7" dy="4.6">Exists</tspan></text></g>
<g id="f-formerr"><rect class="br" x="266.7" y="881.7" width="34" height="25" rx="0.8"/><text class="tx tw" y="888.55"><tspan x="283.7">Form level errors</tspan><tspan x="283.7" dy="4.6">(Wrong e-mail, did</tspan><tspan x="283.7" dy="4.6">not agree to T&amp;C,</tspan><tspan x="283.7" dy="4.6">etc)</tspan></text></g>
<g id="f-submiterr"><rect class="br" x="266.7" y="912.7" width="34" height="24" rx="0.8"/><text class="tx tw" y="919.05"><tspan x="283.7">Error submitting</tspan><tspan x="283.7" dy="4.6">data / Database</tspan><tspan x="283.7" dy="4.6">error (Screen or</tspan><tspan x="283.7" dy="4.6">message)</tspan></text></g>
<g id="f-newemail"><rect class="bk" x="223.3" y="851" width="34" height="19.7" rx="0.8"/><text class="tx td" y="857.5"><tspan x="240.3">Enter new email</tspan><tspan x="240.3" dy="4.6">(or tap to go to</tspan><tspan x="240.3" dy="4.6">login)</tspan></text></g>
<g id="f-correct"><rect class="bk" x="223.3" y="884.3" width="34" height="19.7" rx="0.8"/><text class="tx td" y="893.1"><tspan x="240.3">Correct info and</tspan><tspan x="240.3" dy="4.6">try again</tspan></text></g>
<g id="f-refresh"><rect class="bk" x="223.3" y="915" width="34" height="20" rx="0.8"/><text class="tx td" y="923.95"><tspan x="240.3">Refresh Page and</tspan><tspan x="240.3" dy="4.6">try again</tspan></text></g>
</svg>
